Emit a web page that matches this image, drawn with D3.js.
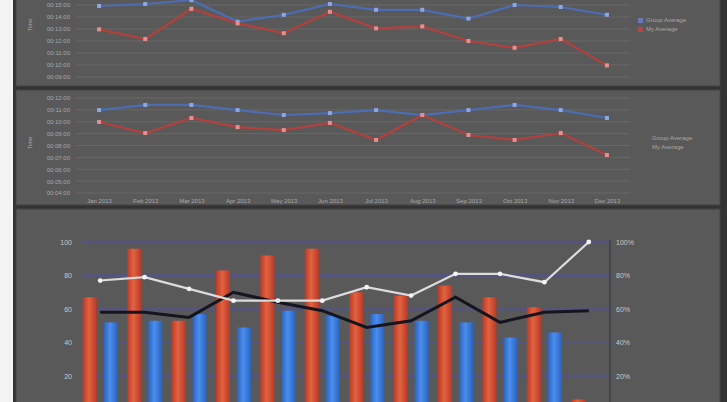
<!DOCTYPE html>
<html>
<head>
<meta charset="utf-8">
<script src="https://cdn.jsdelivr.net/npm/d3@7"></script>
<style>
  body { margin: 0; background: #f4f4f4; }
  svg { display: block; font-family: "Liberation Sans", Arial, sans-serif; }
</style>
</head>
<body>
<svg id="chart" width="727" height="402"></svg>
<script>
// months shared by all three panels
var months = ["Jan 2013", "Feb 2013", "Mar 2013", "Apr 2013", "May 2013", "Jun 2013",
              "Jul 2013", "Aug 2013", "Sep 2013", "Oct 2013", "Nov 2013", "Dec 2013"];

// panel 1, times in seconds
var topTicks = [540, 600, 660, 720, 780, 840, 900];
var topGroup = [895, 905, 924, 817, 851, 905, 876, 876, 832, 900, 890, 851];
var topMine  = [778, 730, 881, 808, 759, 866, 783, 793, 720, 686, 730, 598];

// panel 2, times in seconds
var midTicks = [240, 300, 360, 420, 480, 540, 600, 660, 720];
var midGroup = [659, 685, 685, 659, 634, 644, 659, 634, 659, 685, 659, 619];
var midMine  = [599, 543, 619, 573, 558, 594, 508, 634, 533, 508, 543, 432];

// panel 3
var barTicks = [20, 40, 60, 80, 100];
var redBars  = [67, 96, 53, 83, 92, 96, 70, 68, 74, 67, 61, 6];
var blueBars = [52, 53, 57, 49, 59, 56, 57, 53, 52, 43, 46, 3];
var whitePct = [77, 79, 72, 65, 65, 65, 73, 68, 81, 81, 76, 100];
var blackPct = [58, 58, 55, 70, 64, 59, 49, 53, 67, 52, 58, 59];

var legendNames = ["Group Average", "My Average"];

var svg = d3.select("#chart");

function fmtTime(s) {
    var m = Math.floor(s / 60), sec = s % 60;
    return "00:" + (m < 10 ? "0" : "") + m + ":" + (sec < 10 ? "0" : "") + sec;
}

// gradients for the bars
var defs = svg.append("defs");
function grad(id, edge, mid) {
    var g = defs.append("linearGradient").attr("id", id)
        .attr("x1", "0%").attr("x2", "100%").attr("y1", "0%").attr("y2", "0%");
    g.append("stop").attr("offset", "0%").attr("stop-color", edge);
    g.append("stop").attr("offset", "45%").attr("stop-color", mid);
    g.append("stop").attr("offset", "100%").attr("stop-color", edge);
}
grad("redGrad", "#b83a28", "#e2623f");
grad("blueGrad", "#2c62b8", "#4a8ef0");

// background and panels
svg.append("rect").attr("x", 13).attr("y", 0).attr("width", 714).attr("height", 402).attr("fill", "#333");
var panels = [[16, -30, 704, 116], [16, 90, 704, 115], [16, 209, 704, 200]];
panels.forEach(function(p) {
    svg.append("rect").attr("x", p[0]).attr("y", p[1]).attr("width", p[2]).attr("height", p[3])
        .attr("fill", "#595959").attr("stroke", "#444").attr("stroke-width", 1);
});

// line panels (1 and 2)
function linePanel(opts) {
    var x = d3.scalePoint().domain(months).range([76, 630]).padding(0.5);
    var y = d3.scaleLinear().domain(opts.domain).range(opts.range);
    var g = svg.append("g");

    g.selectAll(".grid").data(opts.ticks).enter().append("line")
        .attr("x1", 76).attr("x2", 630)
        .attr("y1", function(d) { return y(d); }).attr("y2", function(d) { return y(d); })
        .attr("stroke", "#686868").attr("stroke-width", 1);

    var yAxis = d3.axisLeft(y).tickValues(opts.ticks).tickFormat(fmtTime).tickSize(0).tickPadding(4);
    var ya = g.append("g").attr("transform", "translate(74,0)").call(yAxis);
    ya.select(".domain").remove();
    ya.selectAll("text").attr("fill", "#a8a8a8").style("font-size", "6px");

    g.append("text").attr("transform", "translate(32," + opts.titleY + ") rotate(-90)")
        .attr("text-anchor", "middle").attr("fill", "#a8a8a8").style("font-size", "6px").text("Time");

    if (opts.xLabels) {
        var xAxis = d3.axisBottom(x).tickSize(0).tickPadding(3);
        var xa = g.append("g").attr("transform", "translate(0," + opts.xLabelY + ")").call(xAxis);
        xa.select(".domain").remove();
        xa.selectAll("text").attr("fill", "#a8a8a8").style("font-size", "6px");
    }

    var line = d3.line().x(function(d, i) { return x(months[i]); }).y(function(d) { return y(d); });
    var series = [[opts.group, "#4c6cb4", "#8fa6e0"], [opts.mine, "#b2403c", "#e49090"]];
    series.forEach(function(s) {
        g.append("path").attr("d", line(s[0])).attr("fill", "none")
            .attr("stroke", s[1]).attr("stroke-width", 2.2);
        g.selectAll(null).data(s[0]).enter().append("rect")
            .attr("x", function(d, i) { return x(months[i]) - 2; })
            .attr("y", function(d) { return y(d) - 2; })
            .attr("width", 4).attr("height", 4)
            .attr("fill", s[2]);
    });

    legendNames.forEach(function(name, i) {
        var ly = opts.legendY + i * 9;
        if (opts.legendMarks) {
            g.append("rect").attr("x", opts.legendX - 8).attr("y", ly - 4).attr("width", 5).attr("height", 5)
                .attr("fill", i === 0 ? "#6a78b8" : "#b04848");
        }
        g.append("text").attr("x", opts.legendX).attr("y", ly).attr("fill", "#a8a8a8")
            .style("font-size", "6px").text(name);
    });
}

linePanel({
    domain: [540, 900], range: [77, 5], ticks: topTicks,
    group: topGroup, mine: topMine, titleY: 25,
    xLabels: false, legendX: 646, legendY: 22, legendMarks: true
});

linePanel({
    domain: [240, 720], range: [193, 98], ticks: midTicks,
    group: midGroup, mine: midMine, titleY: 143,
    xLabels: true, xLabelY: 196, legendX: 652, legendY: 140, legendMarks: false
});

// bar panel (3)
var x3 = d3.scaleBand().domain(months).range([78, 611]);
var inner = d3.scaleBand().domain(["red", "blue"]).range([0, x3.bandwidth()])
    .paddingInner(0.33).paddingOuter(0.22);
var y3 = d3.scaleLinear().domain([0, 100]).range([409.5, 242]);

var g3 = svg.append("g");
g3.selectAll(".grid3").data(barTicks).enter().append("line")
    .attr("x1", 82).attr("x2", 610)
    .attr("y1", function(d) { return y3(d); }).attr("y2", function(d) { return y3(d); })
    .attr("stroke", "#55557c").attr("stroke-width", 3);

g3.append("line").attr("x1", 610).attr("x2", 610).attr("y1", 240).attr("y2", 402)
    .attr("stroke", "#3e3e4a").attr("stroke-width", 1.5);

g3.selectAll(".red").data(redBars).enter().append("rect")
    .attr("x", function(d, i) { return x3(months[i]) + inner("red"); })
    .attr("y", function(d) { return y3(d); })
    .attr("width", inner.bandwidth())
    .attr("height", function(d) { return y3(0) - y3(d); })
    .attr("fill", "url(#redGrad)");

g3.selectAll(".blue").data(blueBars).enter().append("rect")
    .attr("x", function(d, i) { return x3(months[i]) + inner("blue"); })
    .attr("y", function(d) { return y3(d); })
    .attr("width", inner.bandwidth())
    .attr("height", function(d) { return y3(0) - y3(d); })
    .attr("fill", "url(#blueGrad)");

var line3 = d3.line()
    .x(function(d, i) { return x3(months[i]) + x3.bandwidth() / 2; })
    .y(function(d) { return y3(d); });

g3.append("path").attr("d", line3(blackPct)).attr("fill", "none")
    .attr("stroke", "#15151f").attr("stroke-width", 3);

g3.append("path").attr("d", line3(whitePct)).attr("fill", "none")
    .attr("stroke", "#dcdcdc").attr("stroke-width", 2.2);
g3.selectAll(".wdot").data(whitePct).enter().append("circle")
    .attr("cx", function(d, i) { return x3(months[i]) + x3.bandwidth() / 2; })
    .attr("cy", function(d) { return y3(d); })
    .attr("r", 2.4).attr("fill", "#f4f4f4");

var left3 = d3.axisLeft(y3).tickValues(barTicks).tickSize(0).tickPadding(8);
var la = g3.append("g").attr("transform", "translate(80,0)").call(left3);
la.select(".domain").remove();
la.selectAll("text").attr("fill", "#c8c8c8").style("font-size", "7px");

var right3 = d3.axisRight(y3).tickValues(barTicks).tickSize(0).tickPadding(6)
    .tickFormat(function(d) { return d + "%"; });
var ra = g3.append("g").attr("transform", "translate(610,0)").call(right3);
ra.select(".domain").remove();
ra.selectAll("text").attr("fill", "#c8c8c8").style("font-size", "7px");

// white strip on the left edge
svg.append("rect").attr("x", 0).attr("y", 0).attr("width", 13).attr("height", 402).attr("fill", "#f4f4f4");
</script>
</body>
</html>
